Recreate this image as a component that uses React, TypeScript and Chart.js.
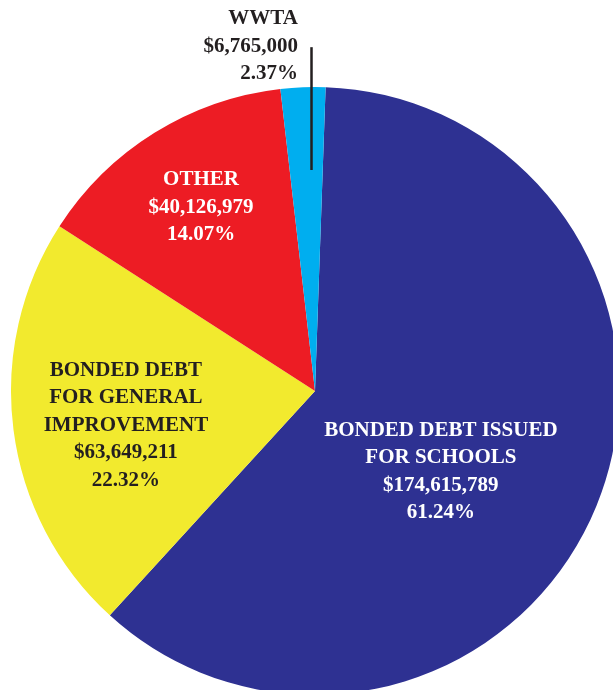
import React, { useEffect, useRef } from "react";
import { Chart, registerables } from "chart.js";

Chart.register(...registerables);

const categories = [
  "BONDED DEBT ISSUED FOR SCHOOLS",
  "BONDED DEBT FOR GENERAL IMPROVEMENT",
  "OTHER",
  "WWTA",
];
const amounts = [174615789, 63649211, 40126979, 6765000];
const amountLabels = ["$174,615,789", "$63,649,211", "$40,126,979", "$6,765,000"];
const percentLabels = ["61.24%", "22.32%", "14.07%", "2.37%"];
const labelLines = [
  ["BONDED DEBT ISSUED", "FOR SCHOOLS"],
  ["BONDED DEBT", "FOR GENERAL", "IMPROVEMENT"],
  ["OTHER"],
  ["WWTA"],
];
const colors = ["#2E3192", "#F2EA2E", "#ED1C24", "#00AEEF"];

// label placement, in fractions of the pie radius relative to its centre
const labelPos = [
  { fx: 0.414, fy: 0.265, align: "center", color: "#FFFFFF" },
  { fx: -0.622, fy: 0.113, align: "center", color: "#231F20" },
  { fx: -0.375, fy: -0.605, align: "center", color: "#FFFFFF" },
  { fx: -0.056, fy: -1.133, align: "right", color: "#231F20" },
];
const leader = { fx: -0.0115, fy1: -1.131, fy2: -0.727 };

const labelPlugin = {
  id: "sliceLabels",
  afterDatasetsDraw(chart: any) {
    const ctx = chart.ctx;
    const meta = chart.getDatasetMeta(0);
    const arc0 = meta.data[0];
    const cx = arc0.x;
    const cy = arc0.y;
    const r = arc0.outerRadius;
    ctx.save();
    // leader line for WWTA
    ctx.strokeStyle = "#231F20";
    ctx.lineWidth = 2.5;
    ctx.beginPath();
    ctx.moveTo(cx + leader.fx * r, cy + leader.fy1 * r);
    ctx.lineTo(cx + leader.fx * r, cy + leader.fy2 * r);
    ctx.stroke();

    ctx.font = "bold 21px 'Liberation Serif', 'Times New Roman', serif";
    ctx.textBaseline = "middle";
    const lh = 27.5;
    categories.forEach((_, i) => {
      const lines = [...labelLines[i], amountLabels[i], percentLabels[i]];
      const p = labelPos[i];
      const x = cx + p.fx * r;
      const y = cy + p.fy * r;
      ctx.fillStyle = p.color;
      ctx.textAlign = p.align;
      const start = y - ((lines.length - 1) * lh) / 2;
      lines.forEach((t, j) => ctx.fillText(t, x, start + j * lh));
    });
    ctx.restore();
  },
};

export default function App() {
  const ref = useRef<HTMLCanvasElement>(null);
  useEffect(() => {
    const chart = new Chart(ref.current!, {
      type: "pie",
      data: {
        labels: categories,
        datasets: [
          {
            data: amounts,
            backgroundColor: colors,
            borderWidth: 0,
          },
        ],
      },
      options: {
        animation: false,
        responsive: false,
        rotation: 2,
        layout: { padding: { left: 11, right: 11, top: 87, bottom: 87 } },
        plugins: {
          legend: { display: false },
          tooltip: { enabled: false },
        },
      },
      plugins: [labelPlugin],
    });
    return () => chart.destroy();
  }, []);
  return (
    <div
      style={{
        position: "fixed",
        left: 0,
        top: 0,
        width: 613,
        height: 690,
        overflow: "hidden",
        background: "#FFFFFF",
      }}
    >
      <canvas ref={ref} width={630} height={782} style={{ display: "block" }} />
    </div>
  );
}
